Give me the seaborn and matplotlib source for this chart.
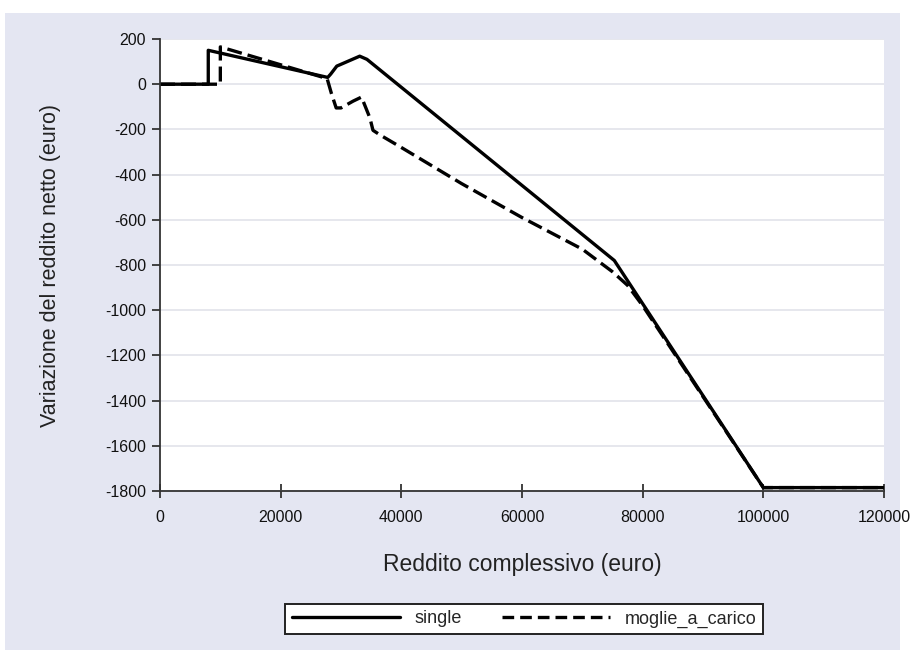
import matplotlib
matplotlib.use("Agg")
import matplotlib.pyplot as plt
from matplotlib.patches import Rectangle
from matplotlib.lines import Line2D
import numpy as np
import pandas as pd
import seaborn as sns

# Reddito complessivo (euro) e variazione del reddito netto (euro)
reddito_single = [0, 8000, 8000, 27800, 28300, 29300, 33100, 34300, 75300, 100000, 120000]
var_single = [0, 0, 150, 30, 45, 80, 124, 110, -780, -1785, -1785]

reddito_moglie = [0, 10000, 10000, 27700, 28400, 29200, 30000, 32000, 33400, 34800, 35300,
                  36500, 40000, 50000, 60000, 70000, 75000, 77500, 80000, 100000, 120000]
var_moglie = [0, 0, 165, 25, -40, -105, -105, -75, -57, -150, -204,
              -225, -280, -440, -590, -730, -830, -890, -980, -1785, -1785]

serie_nomi = ["single", "moglie_a_carico"]
y_ticks = [200, 0, -200, -400, -600, -800, -1000, -1200, -1400, -1600, -1800]
x_ticks = [0, 20000, 40000, 60000, 80000, 100000, 120000]

df = pd.concat([
    pd.DataFrame({"reddito": reddito_single, "variazione": var_single, "serie": serie_nomi[0]}),
    pd.DataFrame({"reddito": reddito_moglie, "variazione": var_moglie, "serie": serie_nomi[1]}),
], ignore_index=True)

sns.set_style("white")
plt.rcParams["font.family"] = ["Liberation Sans Narrow", "Liberation Sans", "DejaVu Sans"]

fig = plt.figure(figsize=(9.11, 6.56), dpi=100)
fig.patch.set_facecolor("white")
# pannello di sfondo lilla
fig.patches.append(Rectangle((5 / 911, 6 / 656), 895 / 911, 637 / 656,
                             transform=fig.transFigure, facecolor="#e4e6f2",
                             edgecolor="none", zorder=-10))

ax = fig.add_axes([160 / 911, 1 - 491 / 656, 724 / 911, 452 / 656])
ax.set_zorder(1)
ax.set_facecolor("white")

sns.lineplot(data=df, x="reddito", y="variazione", style="serie", units="serie",
             estimator=None, sort=False, color="black", linewidth=2.4,
             dashes={"single": "", "moglie_a_carico": (4.5, 1.8)},
             legend=False, ax=ax)

ax.set_xlim(0, 120000)
ax.set_ylim(-1800, 200)
ax.set_xticks(x_ticks)
ax.set_xticklabels([str(v) for v in x_ticks])
ax.set_yticks(y_ticks)
ax.set_yticklabels([str(v) for v in y_ticks])

ax.yaxis.grid(True, color="#e2e3ea", linewidth=1.2)
ax.xaxis.grid(False)
for s in ["top", "right"]:
    ax.spines[s].set_visible(False)
for s in ["left", "bottom"]:
    ax.spines[s].set_visible(True)
    ax.spines[s].set_color("#333333")
    ax.spines[s].set_linewidth(1.3)

ax.tick_params(axis="y", direction="out", length=6, width=1.3, color="#333333",
               labelsize=11.5, pad=4, left=True, labelcolor="#111111")
ax.tick_params(axis="x", direction="inout", length=10, width=1.3, color="#333333",
               labelsize=11.5, pad=9, bottom=True, labelcolor="#111111")

ax.set_xlabel("Reddito complessivo (euro)", fontsize=16.5, color="#222222", labelpad=20)
ax.set_ylabel("Variazione del reddito netto (euro)", fontsize=15.5, color="#222222", labelpad=32)

handles = [Line2D([], [], color="black", linewidth=2.4),
           Line2D([], [], color="black", linewidth=2.4, linestyle=(0, (3.5, 1.8)))]
leg = fig.legend(handles, serie_nomi, loc="center", ncol=2,
                 bbox_to_anchor=(524 / 911, 1 - 619 / 656), frameon=True, fancybox=False,
                 edgecolor="#222222", facecolor="white", framealpha=1, fontsize=13,
                 handlelength=6, columnspacing=2.2, handletextpad=0.8,
                 borderpad=0.35)
leg.get_frame().set_linewidth(1.4)

fig.savefig("out.png", dpi=100, facecolor=fig.get_facecolor())
